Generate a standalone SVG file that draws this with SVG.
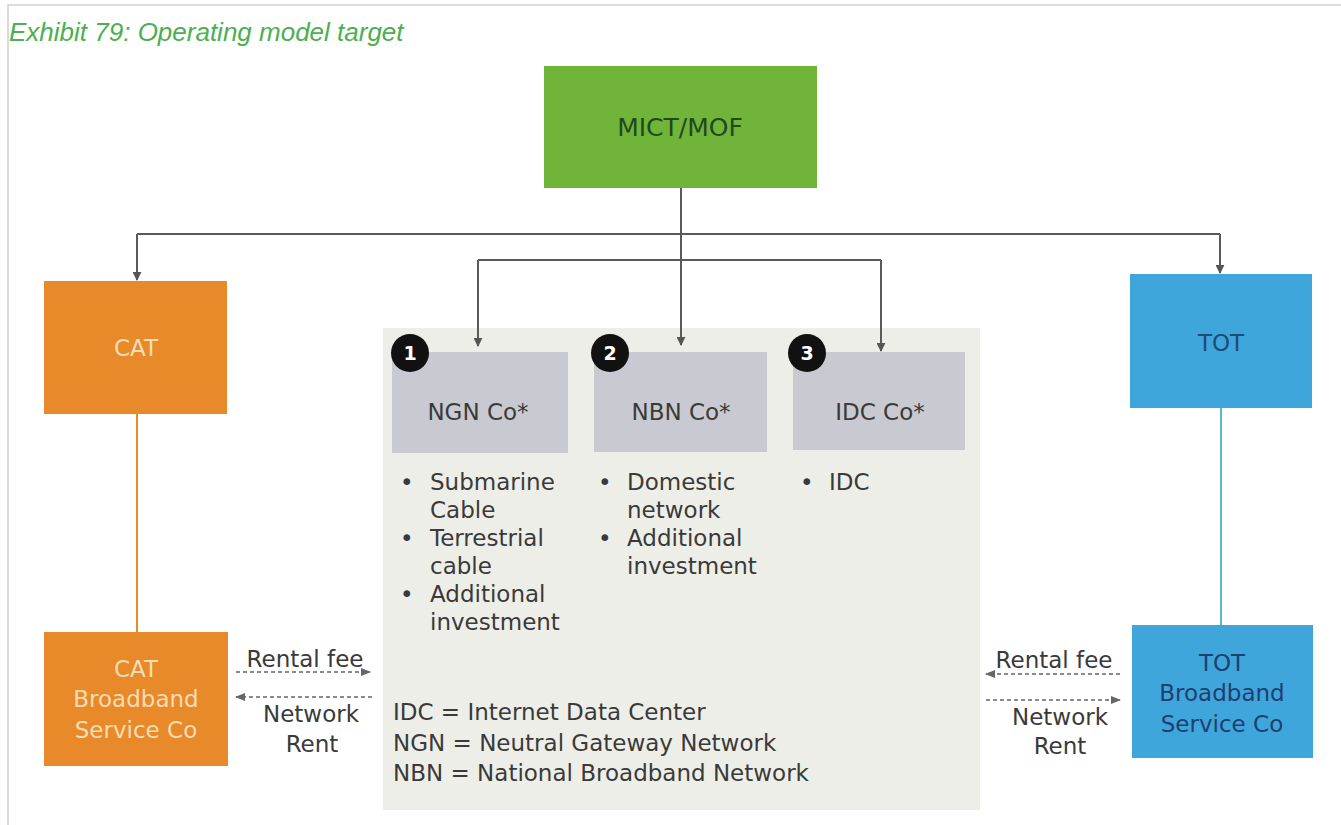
<svg xmlns="http://www.w3.org/2000/svg" width="1341" height="825" viewBox="0 0 1341 825">
<defs>
<marker id="ah" viewBox="0 0 10 10" refX="9" refY="5" markerWidth="9" markerHeight="9" orient="auto" markerUnits="userSpaceOnUse"><path d="M0,0 L10,5 L0,10 z" fill="#555"/></marker>
<marker id="ahd" viewBox="0 0 10 10" refX="9" refY="5" markerWidth="10" markerHeight="10" orient="auto" markerUnits="userSpaceOnUse"><path d="M0,1 L10,5 L0,9 z" fill="#666"/></marker>
<style>
.f{font-family:"DejaVu Sans",Verdana,sans-serif;}
.t{font-family:"DejaVu Sans",Verdana,sans-serif;font-size:23px;fill:#3a3a3a;}
.c{text-anchor:middle;}
.ln{stroke:#5a5a5a;stroke-width:2;fill:none;}
.dash{stroke:#8a8a8a;stroke-width:2;stroke-dasharray:4,3;fill:none;}
.co{fill:#c9c9d1;}
.badge{fill:#111;}
.bn{font-family:"DejaVu Sans",Verdana,sans-serif;font-size:19px;font-weight:bold;fill:#fff;text-anchor:middle;}
</style>
</defs>
<rect width="1341" height="825" fill="#fff"/>
<path d="M8,825 V5 H1341" stroke="#cfcfcf" stroke-width="1.5" fill="none"/>
<text x="9" y="41" style="font-family:'Liberation Sans',Arial,sans-serif;font-style:italic;font-size:26px;fill:#4caf50">Exhibit 79: Operating model target</text>

<g id="panel"><rect x="383" y="328" width="597" height="482" fill="#eeeee8"/></g>

<g id="connectors">
<path class="ln" d="M681,188 V345" marker-end="url(#ah)"/>
<path class="ln" d="M137,234 H1220"/>
<path class="ln" d="M137,234 V280" marker-end="url(#ah)"/>
<path class="ln" d="M1220,234 V273" marker-end="url(#ah)"/>
<path class="ln" d="M478,260 H881"/>
<path class="ln" d="M478,260 V346" marker-end="url(#ah)"/>
<path class="ln" d="M881,260 V351" marker-end="url(#ah)"/>
<path d="M137,414 V632" stroke="#e8892a" stroke-width="2"/>
<path d="M1221,408 V625" stroke="#5bb6c8" stroke-width="2"/>
<path class="dash" d="M236,672 H370" marker-end="url(#ahd)"/>
<path class="dash" d="M372,697 H236" marker-end="url(#ahd)"/>
<path class="dash" d="M1120,674 H986" marker-end="url(#ahd)"/>
<path class="dash" d="M986,700 H1120" marker-end="url(#ahd)"/>
</g>

<g id="mict"><rect x="544" y="66" width="273" height="122" fill="#71b43a"/><text class="f c" x="680" y="136" font-size="25" fill="#1e4a1e">MICT/MOF</text></g>

<g id="cat"><rect x="44" y="281" width="183" height="133" fill="#e8892a"/><text class="f c" x="136" y="356" font-size="23" fill="#f8dcb4">CAT</text></g>

<g id="tot"><rect x="1130" y="274" width="182" height="134" fill="#3ea6db"/><text class="f c" x="1221" y="351" font-size="23" fill="#1e4a7a">TOT</text></g>

<g id="catbb"><rect x="44" y="632" width="184" height="134" fill="#e8892a"/>
<text class="f c" x="136" y="677" font-size="23" fill="#f8dcb4">CAT</text>
<text class="f c" x="136" y="707" font-size="23" fill="#f8dcb4">Broadband</text>
<text class="f c" x="136" y="738" font-size="23" fill="#f8dcb4">Service Co</text></g>

<g id="totbb"><rect x="1132" y="625" width="181" height="133" fill="#3ea6db"/>
<text class="f c" x="1222" y="671" font-size="23" fill="#1e3f70">TOT</text>
<text class="f c" x="1222" y="701" font-size="23" fill="#1e3f70">Broadband</text>
<text class="f c" x="1222" y="732" font-size="23" fill="#1e3f70">Service Co</text></g>

<g id="ngn"><rect class="co" x="392" y="352" width="176" height="101"/>
<circle class="badge" cx="410" cy="353" r="19"/><text class="bn" x="410" y="360">1</text>
<text class="t c" x="478" y="420">NGN Co*</text>
<text class="t" x="400" y="490">•</text><text class="t" x="430" y="490">Submarine</text>
<text class="t" x="430" y="518">Cable</text>
<text class="t" x="400" y="546">•</text><text class="t" x="430" y="546">Terrestrial</text>
<text class="t" x="430" y="574">cable</text>
<text class="t" x="400" y="602">•</text><text class="t" x="430" y="602">Additional</text>
<text class="t" x="430" y="630">investment</text></g>

<g id="nbn"><rect class="co" x="594" y="352" width="173" height="100"/>
<circle class="badge" cx="610" cy="353" r="19"/><text class="bn" x="610" y="360">2</text>
<text class="t c" x="681" y="420">NBN Co*</text>
<text class="t" x="598" y="490">•</text><text class="t" x="627" y="490">Domestic</text>
<text class="t" x="627" y="518">network</text>
<text class="t" x="598" y="546">•</text><text class="t" x="627" y="546">Additional</text>
<text class="t" x="627" y="574">investment</text></g>

<g id="idc"><rect class="co" x="793" y="352" width="172" height="98"/>
<circle class="badge" cx="807" cy="353" r="19"/><text class="bn" x="807" y="360">3</text>
<text class="t c" x="880" y="420">IDC Co*</text>
<text class="t" x="800" y="490">•</text><text class="t" x="829" y="490">IDC</text></g>

<g id="legend">
<text class="t" x="393" y="720">IDC = Internet Data Center</text>
<text class="t" x="393" y="751">NGN = Neutral Gateway Network</text>
<text class="t" x="393" y="781">NBN = National Broadband Network</text>
</g>

<g id="labels">
<text class="t c" x="305" y="667">Rental fee</text>
<text class="t c" x="311" y="722">Network</text>
<text class="t c" x="312" y="752">Rent</text>
<text class="t c" x="1054" y="668">Rental fee</text>
<text class="t c" x="1060" y="725">Network</text>
<text class="t c" x="1060" y="754">Rent</text>
</g>
</svg>
